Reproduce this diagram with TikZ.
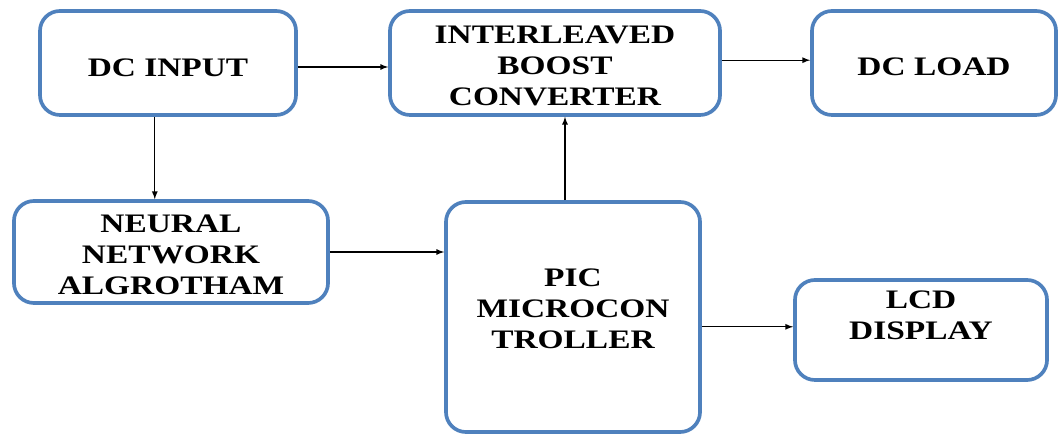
\documentclass[tikz,border=0pt]{standalone}
\usepackage{fontspec}
\setmainfont{Liberation Serif}[FakeStretch=1.25]
\usepackage{xcolor}
\usetikzlibrary{arrows,positioning}
\definecolor{boxblue}{RGB}{79,129,189}

\begin{document}
\begin{tikzpicture}[
    x=0.025cm, y=-0.025cm,
    block/.style={rectangle, rounded corners=0.5cm, draw=boxblue, line width=2.6pt, fill=white, text centered, align=center, font=\fontsize{19}{22}\selectfont\bfseries},
    arrow/.style={line width=0.9pt, ->, >=latex}
]
\useasboundingbox (0,0) rectangle (1061,438);

% Top row
\node[block, minimum width=6.4cm, minimum height=2.6cm, text height=0.7cm] (dcin) at (168,63) {DC INPUT};
\node[block, minimum width=8.25cm, minimum height=2.6cm, text height=2.14cm] (ibc) at (555,63) {INTERLEAVED\\BOOST\\CONVERTER};
\node[block, minimum width=6.1cm, minimum height=2.6cm, text height=0.65cm] (load) at (934,63) {DC LOAD};

% Bottom row
\node[block, minimum width=7.85cm, minimum height=2.55cm, text height=2.14cm] (nn) at (171,252) {NEURAL\\NETWORK\\ALGROTHAM};
\node[block, minimum width=6.35cm, minimum height=5.75cm, text height=2.14cm, text depth=0.55cm] (pic) at (573,317) {PIC\\MICROCON\\TROLLER};
\node[block, minimum width=6.3cm, minimum height=2.5cm, text depth=0.75cm] (lcd) at (921,330) {LCD\\DISPLAY};

% Signal flow
\draw[arrow] ([yshift=-0.1cm]dcin.east) -- ([yshift=-0.1cm]dcin.east -| ibc.west);
\draw[arrow] ([yshift=0.07cm]ibc.east) -- ([yshift=0.07cm]ibc.east -| load.west);
\draw[arrow] ([xshift=-0.33cm]dcin.south) -- ([xshift=-0.33cm]dcin.south |- nn.north);
\draw[arrow] (nn.east) -- (nn.east -| pic.west);
\draw[arrow] ([xshift=-0.2cm]pic.north) -- ([xshift=-0.2cm]pic.north |- ibc.south);
\draw[arrow] ([yshift=0.08cm]lcd.west -| pic.east) -- ([yshift=0.08cm]lcd.west);

\end{tikzpicture}
\end{document}
